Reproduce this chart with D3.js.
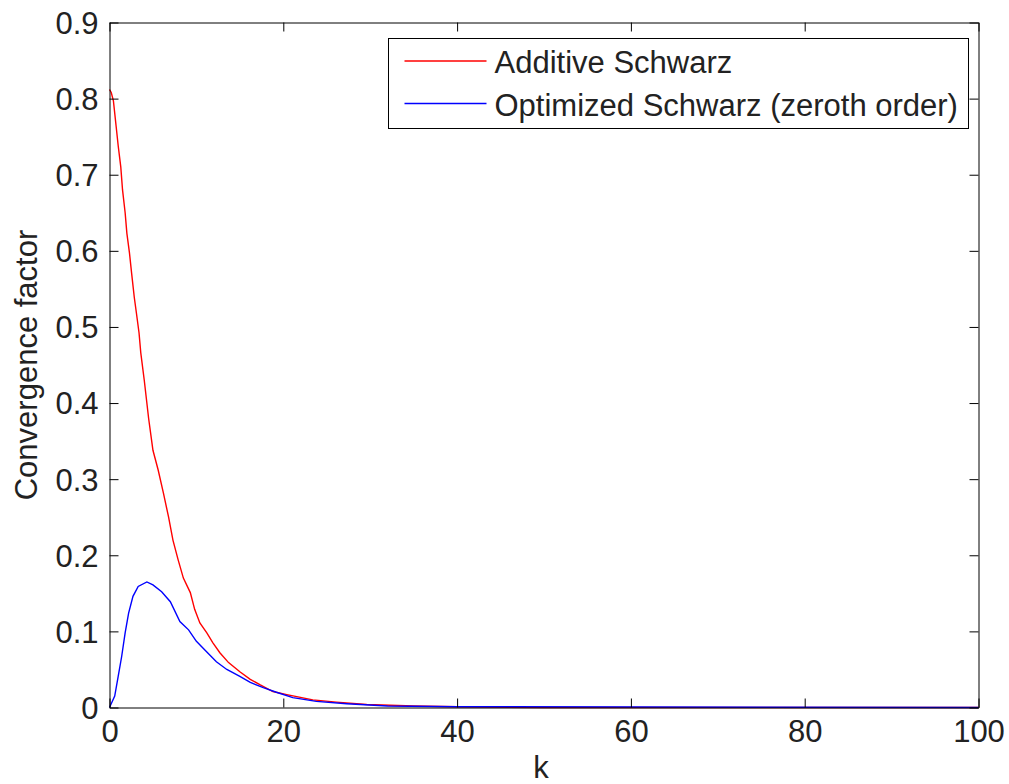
<!DOCTYPE html>
<html>
<head>
<meta charset="utf-8">
<script src="https://cdn.jsdelivr.net/npm/d3@7"></script>
<style>
  body { margin: 0; background: #fff; }
  text { font-family: "Liberation Sans", Arial, sans-serif; fill: #222; }
</style>
</head>
<body>
<div id="chart"></div>
<script>
// k values and convergence factors
var kAdditive = [0, 0.2, 0.45, 0.75, 1.0, 1.3, 1.5, 1.8, 2.0, 2.3, 2.55, 2.85, 3.1, 3.4, 3.6, 4.0, 4.5, 5.0, 5.6, 6.2, 6.8, 7.3, 7.9, 8.5, 9.3, 9.8, 10.4, 11.2, 11.9, 12.7, 13.7, 15.0, 16.2, 17.3, 18.8, 20.4, 23.4, 26.1, 29.6, 35, 40, 50, 100];
var additive = [0.812, 0.808, 0.797, 0.765, 0.738, 0.71, 0.68, 0.65, 0.623, 0.597, 0.57, 0.539, 0.518, 0.492, 0.466, 0.43, 0.38, 0.338, 0.312, 0.282, 0.25, 0.22, 0.194, 0.17, 0.151, 0.129, 0.111, 0.098, 0.085, 0.072, 0.059, 0.047, 0.037, 0.030, 0.021, 0.017, 0.010, 0.007, 0.004, 0.002, 0.001, 0, 0];

var kOptimized = [0, 0.6, 1.0, 1.4, 1.8, 2.2, 2.7, 3.3, 4.3, 5.0, 6.0, 7.0, 8.1, 9.1, 10.0, 11.2, 12.3, 13.5, 15.0, 16.2, 17.7, 19.2, 21.1, 23.8, 27.3, 32, 40, 100];
var optimized = [0, 0.015, 0.041, 0.067, 0.098, 0.124, 0.146, 0.159, 0.165, 0.161, 0.152, 0.139, 0.113, 0.102, 0.087, 0.073, 0.060, 0.050, 0.041, 0.033, 0.026, 0.020, 0.013, 0.008, 0.005, 0.002, 0.001, 0];

var xTicks = [0, 20, 40, 60, 80, 100];
var yTicks = [0, 0.1, 0.2, 0.3, 0.4, 0.5, 0.6, 0.7, 0.8, 0.9];
var seriesNames = ["Additive Schwarz", "Optimized Schwarz (zeroth order)"];
var seriesColors = ["#ff0000", "#0000ff"];

const margin = { top: 22.5, right: 30.5, bottom: 76.5, left: 109.5 },
    width = 1009 - margin.left - margin.right,
    height = 784 - margin.top - margin.bottom;

const svg = d3.select("#chart")
    .append("svg")
    .attr("width", 1009)
    .attr("height", 784)
    .append("g")
    .attr("transform", `translate(${margin.left}, ${margin.top})`);

var x = d3.scaleLinear().domain([0, 100]).range([0, width]);
var y = d3.scaleLinear().domain([0, 0.9]).range([height, 0]);

var fontSize = 31;

// lines first, axes box on top
var line = d3.line()
    .x(function (d) { return x(d[0]) })
    .y(function (d) { return y(d[1]) });

var seriesData = [
    kAdditive.map(function (k, i) { return [k, additive[i]] }),
    kOptimized.map(function (k, i) { return [k, optimized[i]] })
];

seriesData.forEach(function (data, i) {
    svg.append("path")
        .datum(data)
        .attr("fill", "none")
        .attr("stroke", seriesColors[i])
        .attr("stroke-width", 1.4)
        .attr("d", line);
});

// axes with inward ticks
function styleAxis(g) {
    g.select(".domain").attr("stroke", "#000");
    g.selectAll(".tick line").attr("stroke", "#000");
}

var xAxis = svg.append("g")
    .attr("transform", "translate(0," + height + ")")
    .call(d3.axisBottom(x).tickValues(xTicks).tickSizeInner(-9).tickSizeOuter(0).tickFormat(d3.format("d")))
    .call(styleAxis);
xAxis.selectAll("text")
    .attr("y", 12)
    .attr("dy", "0.71em")
    .style("fill", "#222")
    .style("font-size", fontSize + "px")
    .style("font-family", "Liberation Sans, Arial, sans-serif");

var yAxis = svg.append("g")
    .call(d3.axisLeft(y).tickValues(yTicks).tickSizeInner(-9).tickSizeOuter(0).tickFormat(function (d) { return d === 0 ? "0" : d3.format(".1f")(d) }))
    .call(styleAxis);
yAxis.selectAll("text")
    .attr("x", -11)
    .attr("dy", "0.35em")
    .style("fill", "#222")
    .style("font-size", fontSize + "px")
    .style("font-family", "Liberation Sans, Arial, sans-serif");

svg.append("g")
    .call(d3.axisTop(x).tickValues(xTicks).tickSizeInner(-9).tickSizeOuter(0).tickFormat(""))
    .call(styleAxis);

svg.append("g")
    .attr("transform", "translate(" + width + ",0)")
    .call(d3.axisRight(y).tickValues(yTicks).tickSizeInner(-9).tickSizeOuter(0).tickFormat(""))
    .call(styleAxis);

// axis labels
svg.append("text")
    .attr("x", width / 2 - 3)
    .attr("y", height + 70)
    .attr("text-anchor", "middle")
    .style("font-size", fontSize + "px")
    .text("k");

svg.append("text")
    .attr("transform", "translate(" + (37 - margin.left) + "," + (height / 2) + ") rotate(-90)")
    .attr("text-anchor", "middle")
    .style("font-size", fontSize + "px")
    .text("Convergence factor");

// legend
var legend = svg.append("g")
    .attr("transform", "translate(" + (388.5 - margin.left) + "," + (38.5 - margin.top) + ")");

legend.append("rect")
    .attr("width", 580)
    .attr("height", 90)
    .attr("fill", "#fff")
    .attr("stroke", "#000");

seriesNames.forEach(function (name, i) {
    var rowY = 22.5 + i * 42.5;
    legend.append("line")
        .attr("x1", 16).attr("x2", 98)
        .attr("y1", rowY).attr("y2", rowY)
        .attr("stroke", seriesColors[i])
        .attr("stroke-width", 1.4);
    legend.append("text")
        .attr("x", 106)
        .attr("y", rowY + 12)
        .style("font-size", fontSize + "px")
        .text(name);
});
</script>
</body>
</html>
